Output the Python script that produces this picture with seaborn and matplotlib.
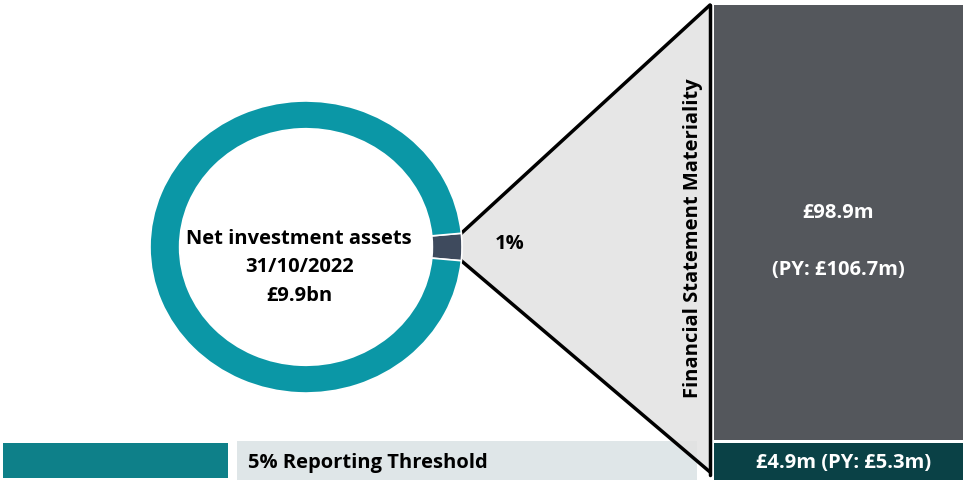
import matplotlib
matplotlib.use("Agg")
import matplotlib.pyplot as plt
from matplotlib.patches import Polygon, Rectangle
import numpy as np
import seaborn as sns

# values
share_labels = ["Materiality", "Other net assets"]
share_drawn = [3, 97]          # slice as drawn (exaggerated in the source)
materiality_pct = "1%"
net_assets_label = ["Net investment assets", "31/10/2022", "£9.9bn"]
materiality_cy = 98.9
materiality_py = 106.7
threshold_pct = 5
threshold_cy = 4.9
threshold_py = 5.3
side_label = "Financial Statement Materiality"

ring_col = "#0b97a6"
slice_col = "#3e4a5d"
box_col = "#54575c"
thr_col = "#0a4146"
bar_col = "#0e8089"
pale_col = "#dfe6e8"
tri_col = "#e2e2e2"

sns.set_theme(style="white")
plt.rcParams["font.family"] = ["Open Sans", "DejaVu Sans"]
FS = 14.5

W, H = 963, 480
fig = plt.figure(figsize=(W / 100, H / 100), dpi=100)
ax = fig.add_axes([0, 0, 1, 1])
ax.set_xlim(0, W)
ax.set_ylim(H, 0)
ax.axis("off")

# donut in its own axes (slightly flattened like the source)
cx, cy, rx, ry = 306, 247, 156, 146
dax = fig.add_axes([(cx - rx) / W, 1 - (cy + ry) / H, 2 * rx / W, 2 * ry / H])
half = share_drawn[0] / sum(share_drawn) * 180
dax.pie(share_drawn, colors=[slice_col, ring_col], startangle=-half, counterclock=True,
        radius=1, wedgeprops=dict(width=0.19, edgecolor="white", linewidth=1.2))
dax.set_aspect("auto")
dax.set_xlim(-1.0, 1.0)
dax.set_ylim(-1.0, 1.0)
dax.axis("off")

# zoom triangle from slice edge to materiality box
t = np.deg2rad(half)
sx = cx + rx * np.cos(t)
top_y, bot_y = cy - ry * np.sin(t), cy + ry * np.sin(t)
ax.add_patch(Polygon([(sx, top_y), (710, 5), (710, 472), (sx, bot_y)], closed=True,
                     facecolor=tri_col, edgecolor="none", zorder=2, alpha=0.85))
ax.plot([sx, 710], [top_y, 5], color="black", lw=2.5, zorder=4)
ax.plot([sx, 710], [bot_y, 472], color="black", lw=2.5, zorder=4)
ax.plot([710, 710], [5, 475], color="black", lw=2.5, zorder=4)

ax.text(510, 244, materiality_pct, ha="center", va="center", fontsize=FS,
        fontweight="bold", color="black", zorder=5)
ax.text(693, 238, side_label, ha="center", va="center", rotation=90, fontsize=FS,
        fontweight="bold", color="black", zorder=5)

# materiality box
ax.add_patch(Rectangle((714, 5), W - 714, 435, facecolor=box_col, edgecolor="none", zorder=3))
ax.text(838, 213, f"£{materiality_cy}m", ha="center", va="center", fontsize=FS,
        fontweight="bold", color="white", zorder=5)
ax.text(838, 270, f"(PY: £{materiality_py}m)", ha="center", va="center", fontsize=FS,
        fontweight="bold", color="white", zorder=5)

# bottom threshold row
ax.add_patch(Rectangle((3, 443), 225, 35, facecolor=bar_col, edgecolor="none", zorder=1))
ax.add_patch(Rectangle((237, 441), 460, 39, facecolor=pale_col, edgecolor="none", zorder=1))
ax.text(248, 463, f"{threshold_pct}% Reporting Threshold", ha="left", va="center",
        fontsize=FS, fontweight="bold", color="black", zorder=5)
ax.add_patch(Rectangle((714, 443), W - 714, 37, facecolor=thr_col, edgecolor="none", zorder=3))
ax.text(844, 463, f"£{threshold_cy}m (PY: £{threshold_py}m)", ha="center", va="center",
        fontsize=FS, fontweight="bold", color="white", zorder=5)

# centre text
for txt, yy in zip(net_assets_label, [239, 267, 296]):
    ax.text(299, yy, txt, ha="center", va="center", fontsize=FS, fontweight="bold",
            color="black", zorder=5)

fig.savefig("out.png", dpi=100)
